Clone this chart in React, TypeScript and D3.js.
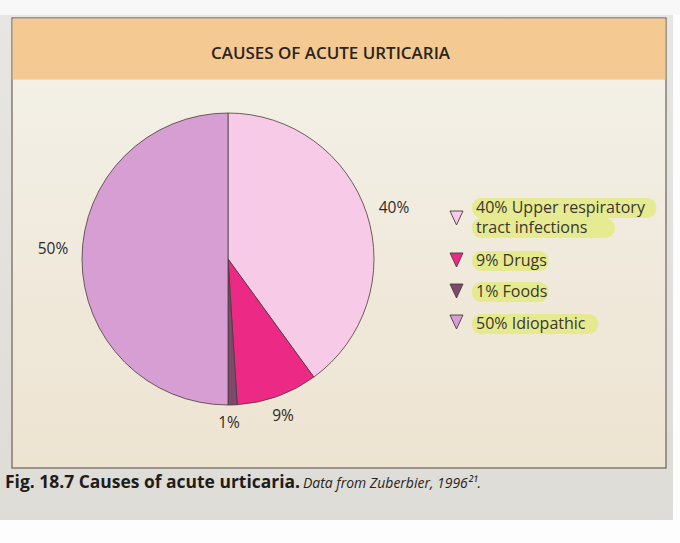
import React from "react";
import * as d3 from "d3";

const categories = ["Upper respiratory tract infections", "Drugs", "Foods", "Idiopathic"];
const values = [40, 9, 1, 50];
const sliceColors = ["#f7cbe8", "#ec2a86", "#7d4a6c", "#d79ed4"];
const legendLines = [["40% Upper respiratory", "tract infections"], ["9% Drugs"], ["1% Foods"], ["50% Idiopathic"]];
const sliceLabels = ["40%", "9%", "1%", "50%"];

const W = 680, H = 543;

export default function App() {
  const cx = 228, cy = 259, r = 146;
  const pie = d3.pie<number>().sort(null).value((d) => d);
  const arcs = pie(values);
  const arc = d3.arc<d3.PieArcDatum<number>>().innerRadius(0).outerRadius(r);
  const labelPos: [number, number][] = [[394, 213], [283, 421], [229, 428], [53, 254]];
  const legendY = [218, 260, 291, 322];
  const textX = 476;
  const textBase = [[213, 233], [266], [297], [329]];

  return (
    <svg width={W} height={H} style={{ position: "absolute", left: 0, top: 0 }}>
      <defs>
        <linearGradient id="cream" x1="0" y1="0" x2="0" y2="1">
          <stop offset="0" stopColor="#f4f2ea" />
          <stop offset="1" stopColor="#ede3d1" />
        </linearGradient>
        <linearGradient id="grey" x1="0" y1="0" x2="0" y2="1">
          <stop offset="0" stopColor="#e7e6e2" />
          <stop offset="1" stopColor="#dedcd7" />
        </linearGradient>
      </defs>
      <rect x={0} y={0} width={W} height={H} fill="#fdfdfd" />
      <rect x={0} y={14} width={673} height={506} fill="url(#grey)" />
      <rect x={0} y={0} width={W} height={15} fill="#f8f8f8" />
      {/* panel */}
      <rect x={12} y={18} width={654} height={450} fill="url(#cream)" stroke="#6b6258" strokeWidth={1.2} />
      <rect x={12.6} y={18.6} width={652.8} height={61} fill="#f4c992" />
      <text x={330.5} y={59} textAnchor="middle" fontFamily="'Open Sans', sans-serif" fontSize={17} fontWeight={600} fill="#2a2320" textLength={239} lengthAdjust="spacingAndGlyphs">
        CAUSES OF ACUTE URTICARIA
      </text>
      <g transform={`translate(${cx},${cy})`}>
        {arcs.map((a, i) => (
          <path key={categories[i]} d={arc(a) || ""} fill={sliceColors[i]} stroke="#4a3a3a" strokeWidth={0.8} />
        ))}
      </g>
      {sliceLabels.map((s, i) => (
        <text key={s} x={labelPos[i][0]} y={labelPos[i][1]} textAnchor="middle" fontFamily="'Open Sans', sans-serif" fontSize={15.5} fill="#2f2a28">
          {s}
        </text>
      ))}
      {/* legend */}
      {categories.map((c, i) => {
        const y = legendY[i];
        return (
          <g key={c}>
            <path d={`M${450},${y - 7} L${463},${y - 7} L${456.5},${y + 7} Z`} fill={sliceColors[i]} stroke="#4a3a3a" strokeWidth={0.9} />
            {legendLines[i].map((ln, j) => {
              const b = textBase[i][j];
              const wd = ln.length * 8.3;
              return (
                <g key={ln}>
                  <rect x={textX - 4} y={b - 15} width={wd + 10} height={20} rx={9} fill="#e4ea7c" opacity={0.8} />
                  <text x={textX} y={b} fontFamily="'Open Sans', sans-serif" fontSize={16} fill="#3d3532">
                    {ln}
                  </text>
                </g>
              );
            })}
          </g>
        );
      })}
      {/* caption */}
      <text x={5} y={488} fontFamily="'Open Sans', sans-serif" fontSize={17.5} fontWeight={700} fill="#221c18" textLength={295} lengthAdjust="spacingAndGlyphs">
        Fig. 18.7  Causes of acute urticaria.
      </text>
      <text x={303} y={488} fontFamily="'Open Sans', sans-serif" fontSize={15} fontStyle="italic" fill="#2a2420" textLength={178} lengthAdjust="spacingAndGlyphs">
        Data from Zuberbier, 1996²¹.
      </text>
    </svg>
  );
}
